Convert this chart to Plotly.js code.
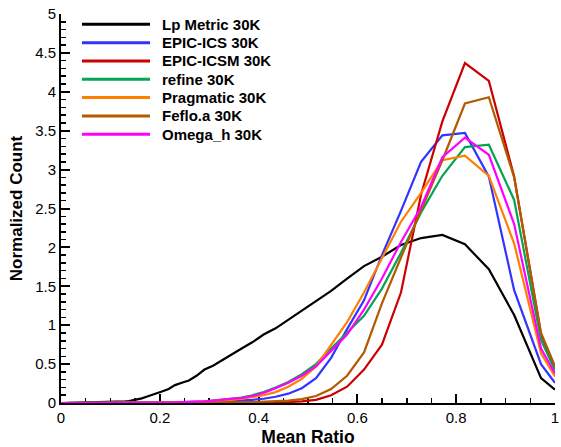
<!DOCTYPE html>
<html>
<head>
<meta charset="utf-8">
<script src="https://cdn.plot.ly/plotly-3.0.1.min.js"></script>
<style>
  html, body { margin: 0; padding: 0; background: #fff; }
  #chart { width: 561px; height: 447px; }
</style>
</head>
<body>
<div id="chart"></div>
<script>
// Histogram bin centres (mean ratio), shared by every mesher
const meanRatio = [0, 0.1157, 0.1226, 0.1299, 0.1376, 0.1457, 0.1543, 0.1635, 0.1731, 0.1834,
  0.1942, 0.2057, 0.2179, 0.2308, 0.2445, 0.2589, 0.2743, 0.2905, 0.3077, 0.3259,
  0.3452, 0.3656, 0.3872, 0.4102, 0.4344, 0.4601, 0.4874, 0.5162, 0.5468, 0.5791,
  0.6134, 0.6497, 0.6882, 0.7289, 0.7720, 0.8177, 0.8661, 0.9173, 0.9717, 1.0];

// Normalized counts per mesher
const lpMetric = [0, 0.01, 0.015, 0.02, 0.025, 0.035, 0.045, 0.06, 0.08, 0.10,
  0.12, 0.15, 0.18, 0.23, 0.26, 0.29, 0.35, 0.43, 0.48, 0.55,
  0.63, 0.70, 0.78, 0.88, 0.96, 1.07, 1.19, 1.32, 1.44, 1.60,
  1.76, 1.88, 2.03, 2.12, 2.16, 2.04, 1.72, 1.13, 0.32, 0.17];

const epicIcs = [0, 0, 0, 0, 0, 0, 0, 0, 0, 0,
  0, 0, 0, 0, 0.003, 0.004, 0.005, 0.007, 0.01, 0.015,
  0.02, 0.03, 0.04, 0.055, 0.08, 0.12, 0.19, 0.32, 0.58, 0.95,
  1.32, 1.90, 2.47, 3.10, 3.44, 3.47, 2.91, 1.45, 0.50, 0.26];

const epicIcsm = [0, 0, 0, 0, 0, 0, 0, 0, 0, 0,
  0, 0, 0, 0, 0, 0, 0, 0, 0, 0,
  0.002, 0.003, 0.004, 0.005, 0.008, 0.012, 0.02, 0.04, 0.10, 0.21,
  0.43, 0.75, 1.42, 2.68, 3.62, 4.37, 4.14, 2.91, 0.88, 0.46];

const refine = [0, 0, 0, 0, 0, 0, 0, 0, 0, 0,
  0, 0, 0.005, 0.007, 0.01, 0.012, 0.015, 0.02, 0.03, 0.04,
  0.05, 0.07, 0.10, 0.14, 0.20, 0.27, 0.37, 0.50, 0.70, 0.90,
  1.12, 1.47, 1.93, 2.45, 2.92, 3.29, 3.32, 2.61, 0.81, 0.42];

const pragmatic = [0, 0, 0, 0, 0, 0, 0, 0, 0, 0,
  0, 0, 0.003, 0.005, 0.007, 0.01, 0.013, 0.017, 0.022, 0.03,
  0.04, 0.055, 0.075, 0.10, 0.14, 0.21, 0.31, 0.47, 0.74, 1.04,
  1.42, 1.87, 2.33, 2.70, 3.12, 3.18, 2.92, 2.05, 0.64, 0.34];

const feflo = [0, 0, 0, 0, 0, 0, 0, 0, 0, 0,
  0, 0, 0, 0, 0, 0, 0, 0.002, 0.003, 0.004,
  0.005, 0.007, 0.01, 0.015, 0.02, 0.03, 0.05, 0.09, 0.18, 0.35,
  0.65, 1.28, 1.87, 2.47, 3.12, 3.85, 3.93, 2.90, 0.90, 0.47];

const omegaH = [0, 0, 0, 0, 0, 0, 0, 0, 0, 0,
  0, 0, 0.005, 0.007, 0.01, 0.012, 0.015, 0.02, 0.03, 0.04,
  0.05, 0.065, 0.09, 0.13, 0.19, 0.26, 0.35, 0.47, 0.67, 0.88,
  1.20, 1.60, 2.07, 2.52, 3.16, 3.41, 3.19, 2.30, 0.70, 0.38];

const seriesNames = ['Lp Metric 30K', 'EPIC-ICS 30K', 'EPIC-ICSM 30K', 'refine 30K',
  'Pragmatic 30K', 'Feflo.a 30K', 'Omega_h 30K'];
const seriesValues = [lpMetric, epicIcs, epicIcsm, refine, pragmatic, feflo, omegaH];
const seriesColors = ['#000000', '#3333ff', '#cc0000', '#00a651', '#ff8000', '#b35900', '#ff00ff'];

const FONT = 'Liberation Sans, Arial, Helvetica, sans-serif';

// plot-area geometry in pixels, used to place the hand-drawn legend
const M = { l: 61, r: 6, t: 14, b: 44 };
const W = 561, H = 447;
const plotW = W - M.l - M.r, plotH = H - M.t - M.b;
const px2x = px => (px - M.l) / plotW;
const py2y = py => (H - M.b - py) / plotH;

const traces = seriesValues.map((vals, i) => ({
  type: 'scatter',
  mode: 'lines',
  x: meanRatio,
  y: vals,
  name: seriesNames[i],
  line: { color: seriesColors[i], width: 2.2 },
  showlegend: false,
  hoverinfo: 'x+y+name'
}));

// legend: long line samples with bold labels, top-left of the plot
const legendTop = 24.3, legendStep = 18.33;
const shapes = [], annotations = [];
seriesNames.forEach((name, i) => {
  const yy = py2y(legendTop + i * legendStep);
  shapes.push({
    type: 'line', xref: 'paper', yref: 'paper',
    x0: px2x(82), x1: px2x(150), y0: yy, y1: yy,
    line: { color: seriesColors[i], width: 3 }
  });
  annotations.push({
    xref: 'paper', yref: 'paper', x: px2x(160), y: yy,
    xanchor: 'left', yanchor: 'middle', showarrow: false,
    text: '<b>' + name + '</b>',
    font: { family: FONT, size: 15, color: '#000' }
  });
});

const axisCommon = {
  showgrid: false, zeroline: false,
  showline: true, linecolor: '#000', linewidth: 2,
  ticks: 'inside', ticklen: 9, tickwidth: 2, tickcolor: '#000',
  tickfont: { family: FONT, size: 15, color: '#000' },
  ticklabeloverflow: 'allow',
  layer: 'below traces'
};

const layout = {
  width: W, height: H,
  margin: M,
  paper_bgcolor: '#fff', plot_bgcolor: '#fff',
  font: { family: FONT, color: '#000' },
  xaxis: Object.assign({}, axisCommon, {
    range: [0, 1], tick0: 0, dtick: 0.2,
    minor: { dtick: 0.05, ticks: 'inside', ticklen: 5, tickwidth: 1.5, tickcolor: '#000', showgrid: false },
    title: { text: '<b>Mean Ratio</b>', font: { family: FONT, size: 17.5, color: '#000' }, standoff: 10 }
  }),
  yaxis: Object.assign({}, axisCommon, {
    range: [0, 5], tick0: 0, dtick: 0.5,
    minor: { dtick: 0.1, ticks: 'inside', ticklen: 5, tickwidth: 1.5, tickcolor: '#000', showgrid: false },
    title: { text: '<b>Normalized Count</b>', font: { family: FONT, size: 17, color: '#000' }, standoff: 8 }
  }),
  shapes: shapes,
  annotations: annotations,
  showlegend: false
};

Plotly.newPlot('chart', traces, layout, { displayModeBar: false, staticPlot: true });
</script>
</body>
</html>
